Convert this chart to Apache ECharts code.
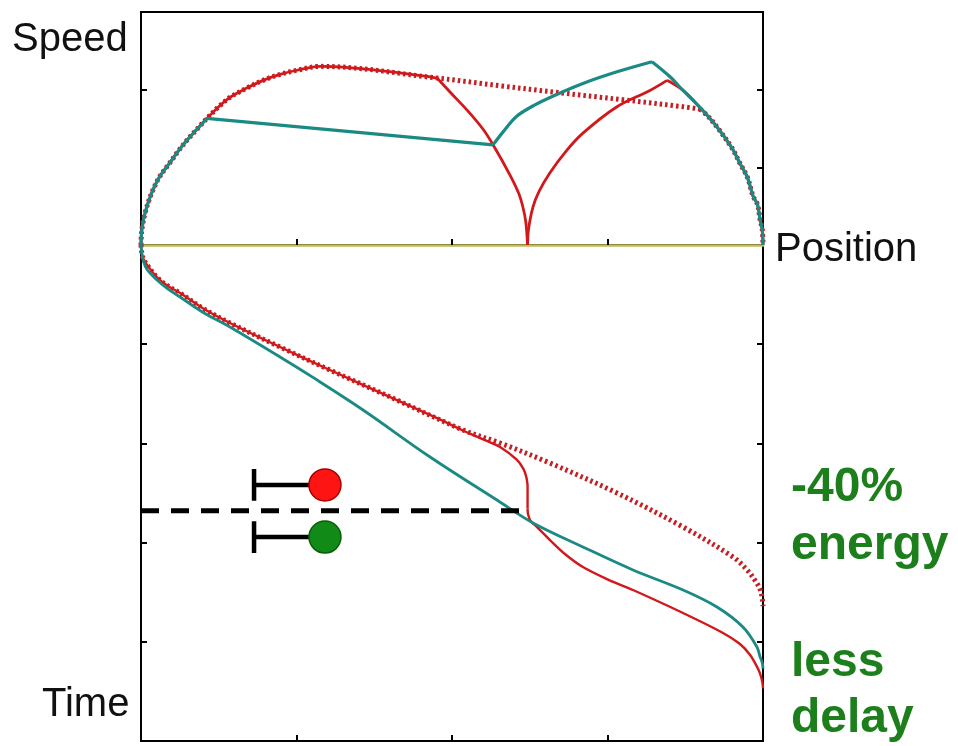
<!DOCTYPE html>
<html>
<head>
<meta charset="utf-8">
<script src="https://cdn.jsdelivr.net/npm/echarts@6/dist/echarts.min.js"></script>
<style>html,body{margin:0;padding:0;background:#fff;}#c{width:958px;height:746px;}</style>
</head>
<body>
<div id="c"></div>
<script>
// ---- axis ticks ----
const positionTicks = [1, 2, 3];
const speedTicksLeft = [2];
const speedTicksRight = [1, 2];
const timeTicks = [1, 2, 3, 4];

// ---- top panel: speed vs position ----
const tealSpeedX = [0, 0.003, 0.012, 0.026, 0.05, 0.077, 0.12, 0.186, 0.24, 0.296, 0.36, 0.424, 2.264, 2.33, 2.418, 2.53, 2.63, 2.842, 3.061, 3.286, 3.40, 3.486, 3.60, 3.704, 3.80, 3.852, 3.90, 3.936, 3.965, 3.981, 3.995, 4];
const tealSpeedY = [0, 0.15, 0.28, 0.41, 0.57, 0.71, 0.88, 1.06, 1.21, 1.35, 1.49, 1.63, 1.29, 1.46, 1.66, 1.80, 1.90, 2.08, 2.23, 2.36, 2.17, 1.99, 1.76, 1.52, 1.25, 1.05, 0.87, 0.63, 0.52, 0.33, 0.20, 0];
const tealSpeedBreaks = [0, 11, 12, 19, 31];

const redSpeedX = [0, 0.003, 0.012, 0.026, 0.05, 0.077, 0.12, 0.186, 0.24, 0.296, 0.36, 0.424, 0.50, 0.572, 0.68, 0.785, 0.90, 1.003, 1.151, 1.904, 1.987, 2.10, 2.20, 2.264, 2.373, 2.43, 2.457, 2.475, 2.486, 2.492, 2.521, 2.56, 2.63, 2.73, 2.842, 3.061, 3.273, 3.383, 3.486, 3.60, 3.704, 3.80, 3.852, 3.90, 3.936, 3.965, 3.981, 3.995, 4];
const redSpeedY = [0, 0.15, 0.28, 0.41, 0.57, 0.71, 0.88, 1.06, 1.21, 1.35, 1.49, 1.63, 1.78, 1.90, 2.02, 2.12, 2.20, 2.25, 2.30, 2.15, 1.97, 1.73, 1.49, 1.29, 0.90, 0.66, 0.48, 0.29, 0, 0.20, 0.49, 0.69, 0.93, 1.20, 1.44, 1.78, 1.99, 2.12, 1.99, 1.76, 1.52, 1.25, 1.05, 0.87, 0.63, 0.52, 0.33, 0.20, 0];
const redSpeedBreaks = [0, 19, 28, 37, 48];

const dottedSpeedX = [0, 0.003, 0.012, 0.026, 0.05, 0.077, 0.12, 0.186, 0.24, 0.296, 0.36, 0.424, 0.50, 0.572, 0.68, 0.785, 0.90, 1.003, 1.151, 1.904, 2.309, 2.695, 3.10, 3.486, 3.595, 3.65, 3.704, 3.80, 3.852, 3.90, 3.936, 3.965, 3.981, 3.995, 4];
const dottedSpeedY = [0, 0.15, 0.28, 0.41, 0.57, 0.71, 0.88, 1.06, 1.21, 1.35, 1.49, 1.63, 1.78, 1.90, 2.02, 2.12, 2.20, 2.25, 2.30, 2.15, 2.05, 1.96, 1.87, 1.78, 1.75, 1.65, 1.52, 1.25, 1.05, 0.87, 0.63, 0.52, 0.33, 0.20, 0];
const dottedSpeedBreaks = [0, 24, 34];

// ---- bottom panel: time vs position (time grows downward) ----
const tealTimeX = [0, 0.004, 0.013, 0.04, 0.103, 0.17, 0.251, 0.40, 0.572, 0.894, 1.106, 1.428, 1.859, 2.289, 2.521, 2.842, 3.164, 3.486, 3.704, 3.871, 3.961, 3.981, 3.995, 4];
const tealTimeY = [0, 0.07, 0.15, 0.25, 0.353, 0.44, 0.524, 0.68, 0.827, 1.129, 1.335, 1.663, 2.137, 2.571, 2.802, 3.044, 3.276, 3.478, 3.649, 3.851, 4.052, 4.15, 4.21, 4.27];
const tealTimeBreaks = [0, 23];

const dottedTimeX = [0, 0.004, 0.013, 0.039, 0.10, 0.17, 0.251, 0.40, 0.572, 0.894, 1.215, 1.646, 2.071, 2.309, 2.630, 3.061, 3.486, 3.807, 3.90, 3.961, 3.981, 3.995, 4];
const dottedTimeY = [0, 0.07, 0.13, 0.20, 0.32, 0.41, 0.484, 0.64, 0.786, 1.028, 1.26, 1.563, 1.865, 1.996, 2.198, 2.5, 2.843, 3.145, 3.28, 3.41, 3.47, 3.56, 3.64];
const dottedTimeBreaks = [0, 22];

const redTimeX = [0, 0.004, 0.013, 0.039, 0.10, 0.17, 0.251, 0.40, 0.572, 0.894, 1.215, 1.646, 1.904, 2.071, 2.20, 2.309, 2.418, 2.46, 2.478, 2.486, 2.486, 2.49, 2.505, 2.547, 2.630, 2.73, 2.842, 3.00, 3.164, 3.486, 3.743, 3.85, 3.916, 3.961, 3.981, 3.995, 4];
const redTimeY = [0, 0.07, 0.13, 0.20, 0.32, 0.41, 0.484, 0.64, 0.786, 1.028, 1.26, 1.563, 1.746, 1.87, 1.96, 2.036, 2.167, 2.26, 2.34, 2.42, 2.66, 2.72, 2.78, 2.843, 2.974, 3.12, 3.246, 3.37, 3.478, 3.71, 3.911, 4.02, 4.13, 4.25, 4.32, 4.40, 4.47];
const redTimeBreaks = [0, 19, 20, 36];

// ---- annotations (traffic signal symbols and dashed level) ----
const stopTime = 2.68;
const dashStartPos = 0;
const dashEndPos = 2.45;
const barPos = 0.727;
const signalPos = 1.183;
const redSignalTime = 2.419;
const greenSignalTime = 2.944;
const barHalf = 0.16;

const zip = (xs, ys) => xs.map((x, i) => [x, ys[i]]);

const TEAL = '#1b8a84';
const RED = '#d3181b';
const DOT = '#c41f22';
const FONT = '"Liberation Sans", Arial, sans-serif';

function lineSeries(name, gi, data, color, width, type, z, smooth) {
  return {
    name: name, type: 'line', xAxisIndex: gi, yAxisIndex: gi * 2, data: data,
    showSymbol: false, symbol: 'none', smooth: smooth || false, z: z || 2,
    lineStyle: { color: color, width: width, type: type || 'solid', cap: 'butt', join: 'round' },
    emphasis: { disabled: true }
  };
}
function segSeries(name, gi, xs, ys, breaks, color, width, type, z) {
  const out = [];
  const pts = zip(xs, ys);
  for (let i = 0; i < breaks.length - 1; i++) {
    const seg = pts.slice(breaks[i], breaks[i + 1] + 1);
    out.push(lineSeries(name + i, gi, seg, color, width, type, z, seg.length > 2 ? 0.35 : false));
  }
  return out;
}

const chart = echarts.init(document.getElementById('c'), null, { renderer: 'canvas' });

const tickStyle = { show: true, inside: true, length: 6, lineStyle: { color: '#000', width: 2 } };
const blackLine = { show: true, onZero: false, lineStyle: { color: '#000', width: 2 } };

const series = [].concat(
  segSeries('dotted speed', 0, dottedSpeedX, dottedSpeedY, dottedSpeedBreaks, DOT, 5, [2.5, 3], 2),
  segSeries('red speed', 0, redSpeedX, redSpeedY, redSpeedBreaks, RED, 2.8, 'solid', 3),
  segSeries('teal speed', 0, tealSpeedX, tealSpeedY, tealSpeedBreaks, TEAL, 3.2, 'solid', 4),
  segSeries('dotted time', 1, dottedTimeX, dottedTimeY, dottedTimeBreaks, DOT, 5, [2.5, 3], 2),
  segSeries('red time', 1, redTimeX, redTimeY, redTimeBreaks, RED, 2.4, 'solid', 3),
  segSeries('teal time', 1, tealTimeX, tealTimeY, tealTimeBreaks, TEAL, 2.8, 'solid', 4),
  [
    lineSeries('stop level', 1, [[dashStartPos, stopTime], [dashEndPos, stopTime]], '#000', 5, [18, 12], 5),
    lineSeries('red bar', 1, [[barPos, redSignalTime - barHalf], [barPos, redSignalTime + barHalf]], '#000', 4.5, 'solid', 5),
    lineSeries('red stem', 1, [[barPos, redSignalTime], [signalPos, redSignalTime]], '#000', 4.5, 'solid', 5),
    lineSeries('green bar', 1, [[barPos, greenSignalTime - barHalf], [barPos, greenSignalTime + barHalf]], '#000', 4.5, 'solid', 5),
    lineSeries('green stem', 1, [[barPos, greenSignalTime], [signalPos, greenSignalTime]], '#000', 4.5, 'solid', 5),
    { type: 'scatter', xAxisIndex: 1, yAxisIndex: 2, z: 6, symbolSize: 32,
      data: [[signalPos, redSignalTime]],
      itemStyle: { color: '#ff1414', borderColor: '#a80000', borderWidth: 1.5, opacity: 1 }, emphasis: { disabled: true } },
    { type: 'scatter', xAxisIndex: 1, yAxisIndex: 2, z: 6, symbolSize: 32,
      data: [[signalPos, greenSignalTime]],
      itemStyle: { color: '#118a17', borderColor: '#0a5c0c', borderWidth: 1.5, opacity: 1 }, emphasis: { disabled: true } }
  ]
);

const option = {
  animation: false,
  backgroundColor: '#fff',
  grid: [
    { left: 141, right: 195, top: 12, height: 233, show: true, borderColor: '#000', borderWidth: 2, backgroundColor: 'transparent' },
    { left: 141, right: 195, top: 245, height: 496, show: true, borderColor: '#000', borderWidth: 2, backgroundColor: 'transparent' }
  ],
  xAxis: [
    { type: 'value', gridIndex: 0, min: 0, max: 4, interval: 1,
      axisLine: { show: true, onZero: false, lineStyle: { color: '#c2bb55', width: 2.5 } },
      axisTick: Object.assign({}, tickStyle, { customValues: positionTicks }),
      axisLabel: { show: false }, splitLine: { show: false } },
    { type: 'value', gridIndex: 1, min: 0, max: 4, interval: 1,
      axisLine: blackLine,
      axisTick: Object.assign({}, tickStyle, { customValues: positionTicks }),
      axisLabel: { show: false }, splitLine: { show: false } }
  ],
  yAxis: [
    { type: 'value', gridIndex: 0, min: 0, max: 3, interval: 1, position: 'left',
      axisLine: blackLine,
      axisTick: Object.assign({}, tickStyle, { customValues: speedTicksLeft }),
      axisLabel: { show: false }, splitLine: { show: false } },
    { type: 'value', gridIndex: 0, min: 0, max: 3, interval: 1, position: 'right',
      axisLine: blackLine,
      axisTick: Object.assign({}, tickStyle, { customValues: speedTicksRight }),
      axisLabel: { show: false }, splitLine: { show: false } },
    { type: 'value', gridIndex: 1, min: 0, max: 5, interval: 1, inverse: true, position: 'left',
      axisLine: blackLine,
      axisTick: Object.assign({}, tickStyle, { customValues: timeTicks }),
      axisLabel: { show: false }, splitLine: { show: false } },
    { type: 'value', gridIndex: 1, min: 0, max: 5, interval: 1, inverse: true, position: 'right',
      axisLine: blackLine,
      axisTick: Object.assign({}, tickStyle, { customValues: timeTicks }),
      axisLabel: { show: false }, splitLine: { show: false } }
  ],
  series: series,
  graphic: [
    { type: 'text', x: 12, y: 40, style: { text: 'Speed', font: '40px ' + FONT, fill: '#111', align: 'left', verticalAlign: 'middle' } },
    { type: 'text', x: 775, y: 250, style: { text: 'Position', font: '40px ' + FONT, fill: '#111', align: 'left', verticalAlign: 'middle' } },
    { type: 'text', x: 42, y: 705, style: { text: 'Time', font: '40px ' + FONT, fill: '#111', align: 'left', verticalAlign: 'middle' } },
    { type: 'text', x: 791, y: 488, style: { text: '-40%', font: 'bold 48px ' + FONT, fill: '#1c7f1c', align: 'left', verticalAlign: 'middle' } },
    { type: 'text', x: 791, y: 546, style: { text: 'energy', font: 'bold 48px ' + FONT, fill: '#1c7f1c', align: 'left', verticalAlign: 'middle' } },
    { type: 'text', x: 791, y: 663, style: { text: 'less', font: 'bold 48px ' + FONT, fill: '#1c7f1c', align: 'left', verticalAlign: 'middle' } },
    { type: 'text', x: 791, y: 719, style: { text: 'delay', font: 'bold 48px ' + FONT, fill: '#1c7f1c', align: 'left', verticalAlign: 'middle' } }
  ]
};
chart.setOption(option);
</script>
</body>
</html>
